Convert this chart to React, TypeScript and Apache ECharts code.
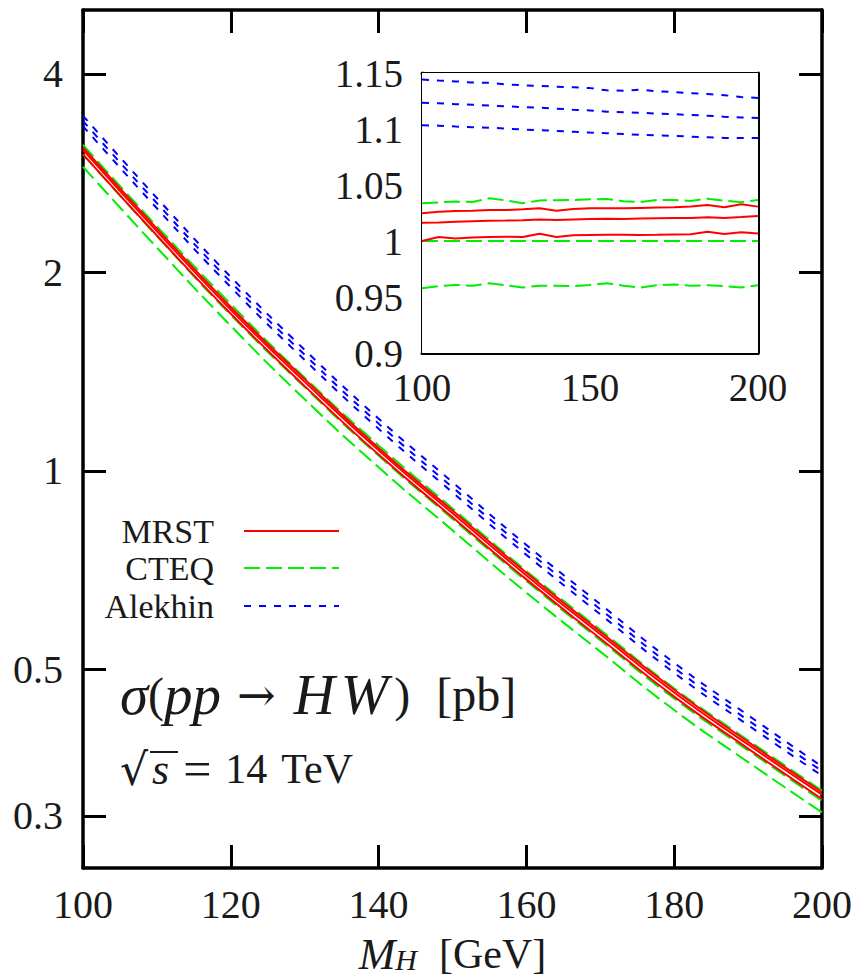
import React, { useEffect, useRef } from "react";
import * as echarts from "echarts";

// ---------- data ----------
// Higgs mass grid for the main panel (GeV)
const massMain = [100, 110, 120, 130, 140, 150, 160, 170, 180, 190, 200];
// CTEQ central cross section sigma(pp -> HW) [pb]
const sigmaCTEQ = [3.02, 2.27, 1.725, 1.34, 1.055, 0.846, 0.681, 0.554, 0.452, 0.377, 0.316];

// Higgs mass grid for the ratio inset (GeV)
const massRatio = [100, 105, 110, 115, 120, 125, 130, 135, 140, 145, 150, 155, 160, 165, 170, 175, 180, 185, 190, 195, 200];
// ratios to CTEQ central
const mrstHi = [1.0247, 1.0262, 1.0268, 1.0271, 1.0277, 1.0277, 1.0283, 1.0292, 1.0271, 1.0286, 1.0292, 1.0292, 1.0292, 1.0295, 1.0298, 1.0301, 1.0307, 1.0322, 1.0301, 1.0328, 1.0307];
const mrstMid = [1.0164, 1.0165, 1.0172, 1.0176, 1.018, 1.0182, 1.0186, 1.0192, 1.0188, 1.0193, 1.0196, 1.0198, 1.0197, 1.0201, 1.0204, 1.0205, 1.0206, 1.0212, 1.0206, 1.0214, 1.0223];
const mrstLo = [1.0, 1.0035, 1.0022, 1.0031, 1.0035, 1.0038, 1.0036, 1.0064, 1.0036, 1.0052, 1.0054, 1.0056, 1.0056, 1.0053, 1.0055, 1.0059, 1.0061, 1.0083, 1.0062, 1.0079, 1.0068];
const cteqHi = [1.0337, 1.0345, 1.0352, 1.0348, 1.0381, 1.0362, 1.0337, 1.0362, 1.0364, 1.0366, 1.0372, 1.0376, 1.0355, 1.0348, 1.0366, 1.0366, 1.0358, 1.0378, 1.036, 1.0346, 1.0366];
const cteqMid = [1, 1, 1, 1, 1, 1, 1, 1, 1, 1, 1, 1, 1, 1, 1, 1, 1, 1, 1, 1, 1];
const cteqLo = [0.9578, 0.9598, 0.9608, 0.9601, 0.9622, 0.9605, 0.9585, 0.9601, 0.9601, 0.9598, 0.9608, 0.9622, 0.9601, 0.9585, 0.9605, 0.9612, 0.9601, 0.9605, 0.9598, 0.9585, 0.9605];
const alekHi = [1.1443, 1.1432, 1.1425, 1.1415, 1.1412, 1.1398, 1.139, 1.1385, 1.1378, 1.1372, 1.1365, 1.1345, 1.1342, 1.1352, 1.1335, 1.133, 1.132, 1.1312, 1.1302, 1.1285, 1.1277];
const alekMid = [1.1235, 1.123, 1.1222, 1.1216, 1.121, 1.1202, 1.1196, 1.119, 1.1182, 1.1172, 1.1165, 1.1155, 1.115, 1.1145, 1.1138, 1.1132, 1.1125, 1.1118, 1.111, 1.1103, 1.1098];
const alekLo = [1.1033, 1.103, 1.1022, 1.1016, 1.1012, 1.1003, 1.0995, 1.099, 1.0982, 1.0975, 1.0968, 1.0962, 1.0955, 1.0948, 1.0942, 1.0938, 1.0932, 1.0926, 1.092, 1.092, 1.092];

// tick labels
const mainYTicks = [0.3, 0.5, 1, 2, 4];

// ---------- styling ----------
const FONT = '"Liberation Serif", "Times New Roman", serif';
const TXT = "#1a1a1a";
const RED = "#ff0000";
const GREEN = "#00ee00";
const BLUE = "#0000ff";

const sets = [
  { name: "CTEQ", color: GREEN, dash: [16, 6], ratios: [cteqHi, cteqMid, cteqLo] },
  { name: "Alekhin", color: BLUE, dash: [7, 8], ratios: [alekHi, alekMid, alekLo] },
  { name: "MRST", color: RED, dash: "solid" as any, ratios: [mrstHi, mrstMid, mrstLo] },
];

export default function App() {
  const ref = useRef<HTMLDivElement>(null);

  useEffect(() => {
    if (!ref.current) return;
    const chart = echarts.init(ref.current, undefined, { renderer: "svg" });

    const series: any[] = [];
    sets.forEach((s) => {
      s.ratios.forEach((r) => {
        series.push({
          type: "line",
          name: s.name,
          xAxisIndex: 0,
          yAxisIndex: 0,
          showSymbol: false,
          symbol: "none",
          smooth: true,
          lineStyle: { color: s.color, width: 2, type: s.dash },
          itemStyle: { color: s.color },
          data: massMain.map((m, i) => [m, sigmaCTEQ[i] * r[massRatio.indexOf(m)]]),
          z: 2,
        });
      });
    });
    sets.forEach((s) => {
      s.ratios.forEach((r) => {
        series.push({
          type: "line",
          name: s.name,
          xAxisIndex: 2,
          yAxisIndex: 2,
          showSymbol: false,
          symbol: "none",
          lineStyle: { color: s.color, width: 2, type: s.dash },
          itemStyle: { color: s.color },
          data: massRatio.map((m, i) => [m, r[i]]),
          z: 5,
        });
      });
    });

    const axisLine = { show: true, lineStyle: { color: "#000", width: 3.5 } };
    const tick = (len: number) => ({ show: true, inside: true, length: len, lineStyle: { color: "#000", width: 3 } });

    const legendFor = (name: string, top: number) => ({
      data: [name],
      orient: "horizontal",
      align: "right",
      right: 855 - 340,
      top,
      padding: 0,
      itemWidth: 95,
      itemHeight: 12,
      selectedMode: false,
      itemStyle: { opacity: 0 },
      textStyle: { fontFamily: FONT, fontSize: 34, color: TXT, lineHeight: 30, padding: [0, 25, 0, 0] },
    });

    const option: any = {
      animation: false,
      backgroundColor: "#fff",
      grid: [
        { left: 83, right: 33, top: 10, bottom: 109, containLabel: false, outerBoundsMode: "none" },
        { left: 422, right: 97, top: 73, height: 280, show: true, backgroundColor: "#fff", borderWidth: 0, z: 4, outerBoundsMode: "none" },
      ],
      legend: [legendFor("MRST", 514), legendFor("CTEQ", 551), legendFor("Alekhin", 589)],
      xAxis: [
        {
          type: "value", gridIndex: 0, min: 100, max: 200, interval: 20, position: "bottom",
          axisLine, axisTick: tick(23), splitLine: { show: false },
          axisLabel: { fontFamily: FONT, fontSize: 40, color: TXT, margin: 16 },
          name: "{i|M}{s|H}{n|[GeV]}",
          nameLocation: "middle",
          nameGap: 66,
          nameTextStyle: {
            rich: {
              i: { fontFamily: FONT, fontSize: 44, fontStyle: "italic", color: TXT, lineHeight: 40, verticalAlign: "middle" },
              s: { fontFamily: FONT, fontSize: 30, fontStyle: "italic", color: TXT, lineHeight: 16, verticalAlign: "bottom", padding: [0, 22, 0, 0] },
              n: { fontFamily: FONT, fontSize: 42, color: TXT, lineHeight: 40, verticalAlign: "middle" },
            },
          },
        },
        {
          type: "value", gridIndex: 0, min: 100, max: 200, interval: 20, position: "top",
          axisLine, axisTick: tick(23), axisLabel: { show: false }, splitLine: { show: false },
        },
        {
          type: "value", gridIndex: 1, min: 100, max: 200, interval: 50, position: "bottom",
          axisLine: { show: true, lineStyle: { color: "#000", width: 3 } }, axisTick: tick(21), splitLine: { show: false },
          axisLabel: { fontFamily: FONT, fontSize: 39, color: TXT, margin: 15 },
        },
        {
          type: "value", gridIndex: 1, min: 100, max: 200, interval: 50, position: "top",
          axisLine: { show: true, lineStyle: { color: "#000", width: 3 } }, axisTick: tick(21), axisLabel: { show: false }, splitLine: { show: false },
        },
      ],
      yAxis: [
        {
          type: "log", gridIndex: 0, min: 0.25, max: 5, position: "left",
          axisLine, axisTick: { ...tick(23), customValues: mainYTicks }, splitLine: { show: false }, minorTick: { show: false },
          axisLabel: { fontFamily: FONT, fontSize: 40, color: TXT, margin: 20, customValues: mainYTicks },
        },
        {
          type: "log", gridIndex: 0, min: 0.25, max: 5, position: "right",
          axisLine, axisTick: { ...tick(23), customValues: mainYTicks }, splitLine: { show: false },
          axisLabel: { show: false },
        },
        {
          type: "value", gridIndex: 1, min: 0.9, max: 1.15, interval: 0.05, position: "left",
          axisLine: { show: true, lineStyle: { color: "#000", width: 3 } }, axisTick: tick(21), splitLine: { show: false },
          axisLabel: { fontFamily: FONT, fontSize: 39, color: TXT, margin: 19 },
        },
        {
          type: "value", gridIndex: 1, min: 0.9, max: 1.15, interval: 0.05, position: "right",
          axisLine: { show: true, lineStyle: { color: "#000", width: 3 } }, axisTick: tick(21), axisLabel: { show: false }, splitLine: { show: false },
        },
      ],
      graphic: [
        {
          type: "text",
          left: 120,
          top: 666,
          z: 10,
          style: {
            text: "{m|σ}{n|(}{m|pp}{a|→}{h|H}{m|W}{p|)}{n|[pb]}",
            rich: {
              m: { fontFamily: FONT, fontSize: 57, fontStyle: "italic", fill: TXT, lineHeight: 64 },
              h: { fontFamily: FONT, fontSize: 57, fontStyle: "italic", fill: TXT, lineHeight: 64, padding: [0, 6, 0, 0] },
              n: { fontFamily: FONT, fontSize: 48, fill: TXT, lineHeight: 64 },
              p: { fontFamily: FONT, fontSize: 48, fill: TXT, lineHeight: 64, padding: [0, 26, 0, 6] },
              a: { fontFamily: '"DejaVu Serif", serif', fontSize: 46, fill: TXT, lineHeight: 64, padding: [0, 18, 0, 16] },
            },
          },
        },
        {
          type: "text",
          left: 120,
          top: 744,
          z: 10,
          style: {
            text: "{r|√}{m|s}{e|=}{d|14}{n|TeV}",
            rich: {
              r: { fontFamily: '"DejaVu Serif", serif', fontSize: 44, fill: TXT, lineHeight: 52 },
              m: { fontFamily: FONT, fontSize: 44, fontStyle: "italic", fill: TXT, lineHeight: 52, padding: [0, 0, 0, 4] },
              e: { fontFamily: FONT, fontSize: 50, fill: TXT, lineHeight: 52, padding: [0, 14, 0, 14] },
              d: { fontFamily: FONT, fontSize: 42, fill: TXT, lineHeight: 52, padding: [0, 14, 0, 0] },
              n: { fontFamily: FONT, fontSize: 42, fill: TXT, lineHeight: 52 },
            },
          },
        },
        {
          type: "line",
          z: 10,
          shape: { x1: 150, y1: 752, x2: 178, y2: 752 },
          style: { stroke: TXT, lineWidth: 2 },
        },
      ],
      series,
    };

    chart.setOption(option);
    return () => chart.dispose();
  }, []);

  return <div ref={ref} style={{ position: "fixed", left: 0, top: 0, width: 855, height: 977 }} />;
}
